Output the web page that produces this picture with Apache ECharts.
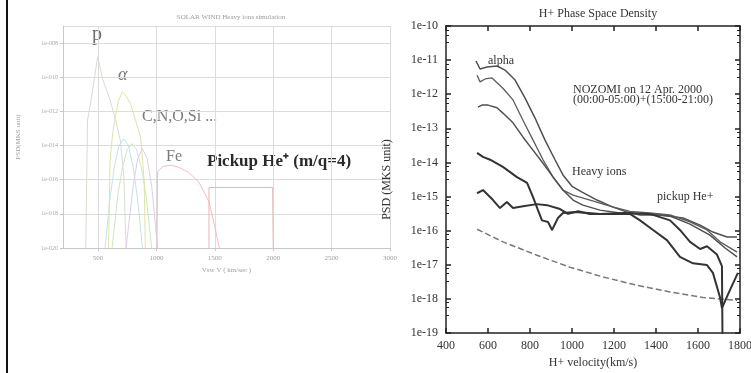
<!DOCTYPE html>
<html>
<head>
<meta charset="utf-8">
<script src="https://cdn.jsdelivr.net/npm/echarts@6/dist/echarts.min.js"></script>
<style>
html,body{margin:0;padding:0;background:#fff;}
#chart{width:751px;height:373px;}
</style>
</head>
<body>
<div id="chart"></div>
<script>
// ---- left panel: solar wind heavy ion simulation (v in km/s, PSD) ----
const simTicksX = [500, 1000, 1500, 2000, 2500, 3000];
const simP = [[395,1e-20],[410,3e-13],[445,7e-12],[471,1.1e-10],[497,1.6e-9],[541,7e-11],[602,5e-12],[646,4e-13],[690,2.2e-14],[720,2e-16],[740,1e-20]];
const simAlpha = [[590,1e-20],[602,1e-15],[625,5e-14],[646,4e-13],[675,4e-12],[707,1.4e-11],[740,8e-12],[777,3e-12],[821,3e-13],[865,3e-14],[895,1e-16],[905,1e-20]];
const simC = [[560,1e-20],[600,6e-18],[640,6e-16],[680,1e-14],[720,2.5e-14],[760,1e-14],[800,6e-16],[840,6e-18],[880,1e-20]];
const simO = [[620,1e-20],[670,1.3e-17],[710,5.6e-16],[750,5.8e-15],[790,1.3e-14],[830,5.8e-15],[870,5.6e-16],[910,1.3e-17],[960,1e-20]];
const simSi = [[740,1e-20],[800,4e-17],[840,1.8e-15],[880,6.3e-15],[920,1.8e-15],[960,4e-17],[1010,1e-20]];
const simFe = [[1005,1e-20],[1010,3e-16],[1060,6e-16],[1127,7e-16],[1200,5e-16],[1276,2.7e-16],[1364,7e-17],[1451,5e-18],[1504,1.3e-19],[1539,1e-20]];
const simPickup = [[1450,1e-20],[1450,3.5e-17],[1995,3.5e-17],[2000,1e-20]];

// ---- right panel: NOZOMI H+ phase space density ----
const psdAlpha = [[543,9.4e-12],[562,5.5e-12],[595,6.3e-12],[643,6.7e-12],[681,5.1e-12],[729,2.6e-12],[776,7.8e-13],[824,2.0e-13],[871,4.6e-14],[919,1.2e-14],[957,4.3e-15],[1000,2.0e-15],[1048,1.35e-15],[1119,7.9e-16],[1195,4.9e-16],[1262,3.5e-16],[1324,2.9e-16],[1419,2.9e-16],[1529,2.35e-16],[1610,1.45e-16],[1671,9.1e-17],[1738,6.5e-17],[1786,6.5e-17]];
const psdB = [[548,3.6e-12],[562,2.3e-12],[586,2.8e-12],[619,3.0e-12],[671,1.5e-12],[719,6.8e-13],[767,1.7e-13],[814,4.6e-14],[862,1.2e-14],[910,3.7e-15],[957,1.55e-15],[1005,1.1e-15],[1086,7.9e-16],[1181,5.2e-16],[1276,3.7e-16],[1371,3.3e-16],[1467,2.9e-16],[1562,1.8e-16],[1643,1.05e-16],[1705,4.7e-17],[1786,2.35e-17]];
const psdC = [[552,4.2e-13],[571,4.8e-13],[600,4.8e-13],[643,4.0e-13],[671,2.8e-13],[719,1.45e-13],[767,5.5e-14],[814,2.3e-14],[862,9.5e-15],[910,3.7e-15],[957,1.55e-15],[1005,7.9e-16],[1052,5.6e-16],[1133,4.0e-16],[1229,3.3e-16],[1348,3.1e-16],[1467,2.7e-16],[1562,1.55e-16],[1657,7.4e-17],[1729,3.1e-17],[1786,1.7e-17]];
const psdD = [[548,1.9e-14],[576,1.45e-14],[610,1.2e-14],[671,7.4e-15],[738,3.7e-15],[786,2.5e-15],[814,9.8e-16],[838,4.0e-16],[857,2.0e-16],[886,1.8e-16],[905,1.05e-16],[933,2.35e-16],[957,3.3e-16],[1014,3.5e-16],[1076,3.3e-16],[1133,3.1e-16],[1252,3.3e-16],[1371,3.1e-16],[1467,2.0e-16],[1514,1.05e-16],[1562,4.7e-17],[1610,2.9e-17],[1643,3.5e-17],[1690,2.0e-17],[1714,9.1e-18],[1719,1e-21]];
const psdE = [[548,1.25e-15],[576,1.55e-15],[624,7.9e-16],[657,4.6e-16],[690,6.9e-16],[719,4.6e-16],[767,5.2e-16],[833,6.0e-16],[881,5.6e-16],[943,4.3e-16],[981,3.1e-16],[1029,3.7e-16],[1086,3.1e-16],[1181,3.1e-16],[1276,3.1e-16],[1324,2.0e-16],[1386,1.05e-16],[1452,5.3e-17],[1514,1.7e-17],[1576,1.1e-17],[1643,9.8e-18],[1671,5.8e-18],[1705,1.1e-18],[1714,5.4e-19],[1752,1.8e-18],[1790,5.8e-18]];
const psdModel = [[548,1.1e-16],[671,4.7e-17],[833,1.9e-17],[990,8.5e-18],[1148,4.4e-18],[1310,2.5e-18],[1467,1.6e-18],[1624,1.1e-18],[1786,9.1e-19]];

const serif = 'Liberation Serif';
const chart = echarts.init(document.getElementById('chart'));

function simLine(data, color) {
  return {type:'line', xAxisIndex:0, yAxisIndex:0, data, symbol:'none', silent:true,
    lineStyle:{color, width:1}};
}
function psdLine(data, color, width, dashed) {
  return {type:'line', xAxisIndex:1, yAxisIndex:1, data, symbol:'none', silent:true,
    lineStyle:{color, width, type: dashed ? 'dashed' : 'solid'}};
}
const exp10 = v => Math.round(Math.log10(v));
const plain = v => String(v);
const dark = {color:'#222', width:1.5};

chart.setOption({
  animation:false,
  title:[
    {text:'SOLAR WIND Heavy ions simulation', left:226, top:9, textAlign:'center',
      textStyle:{fontSize:7, color:'#9a9a9a', fontWeight:'normal', fontFamily:serif}},
    {text:'H+ Phase Space Density', left:593, top:3, textAlign:'center',
      textStyle:{fontSize:12, color:'#333', fontWeight:'normal', fontFamily:serif}}
  ],
  grid:[
    {left:63, top:26, width:327, bottom:125, outerBoundsMode:'none'},
    {left:446, top:26, right:11, bottom:40, outerBoundsMode:'none'}
  ],
  xAxis:[
    {gridIndex:0, type:'value', min:200, max:3000,
      name:'Vsw V ( km/sec )', nameLocation:'middle', nameGap:19,
      nameTextStyle:{fontSize:7, color:'#a0a0a0', fontFamily:serif},
      axisLine:{onZero:false, lineStyle:{color:'#c8c8c8'}},
      axisTick:{customValues:simTicksX, length:3, lineStyle:{color:'#c8c8c8'}},
      axisLabel:{customValues:simTicksX, fontSize:7, color:'#a0a0a0', margin:7, fontFamily:serif, formatter:plain},
      splitLine:{show:true, lineStyle:{color:'#dcdcdc'}}},
    {gridIndex:1, type:'value', min:400, max:1800, interval:200,
      name:'H+ velocity(km/s)', nameLocation:'middle', nameGap:24,
      nameTextStyle:{fontSize:12, color:'#333', fontFamily:serif},
      axisLine:{onZero:false, lineStyle:dark},
      axisTick:{inside:true, length:5, lineStyle:dark},
      axisLabel:{fontSize:12, color:'#333', margin:7, fontFamily:serif, formatter:plain},
      splitLine:{show:false}},
    {gridIndex:1, type:'value', min:400, max:1800, interval:200, position:'top',
      axisLine:{onZero:false, lineStyle:dark},
      axisTick:{inside:true, length:5, lineStyle:dark},
      axisLabel:{show:false}, splitLine:{show:false}}
  ],
  yAxis:[
    {gridIndex:0, type:'log', logBase:10, min:1e-20, max:1e-7, interval:2,
      name:'PSD(MKS unit)', nameLocation:'middle', nameGap:41,
      nameTextStyle:{fontSize:7, color:'#a0a0a0', fontFamily:serif},
      axisLine:{show:true, lineStyle:{color:'#c8c8c8'}},
      axisTick:{show:true, length:3, lineStyle:{color:'#c8c8c8'}},
      axisLabel:{fontSize:6, color:'#a8a8a8', margin:5, fontFamily:serif, showMaxLabel:false,
        formatter:v => { const e = exp10(v); return e % 2 ? '' : '1e-' + String(-e).padStart(3,'0'); }},
      splitLine:{show:true, lineStyle:{color:'#dcdcdc'}}},
    {gridIndex:1, type:'log', logBase:10, min:1e-19, max:1e-10,
      name:'PSD (MKS unit)', nameLocation:'middle', nameGap:53,
      nameTextStyle:{fontSize:12, color:'#333', fontFamily:serif},
      axisLine:{show:true, lineStyle:dark},
      axisTick:{show:true, inside:true, length:5, lineStyle:dark},
      minorTick:{show:true, splitNumber:4, length:3, lineStyle:{color:'#222'}},
      axisLabel:{fontSize:12, color:'#333', margin:8, fontFamily:serif, formatter:v => '1e' + exp10(v)},
      splitLine:{show:false}},
    {gridIndex:1, type:'log', logBase:10, min:1e-19, max:1e-10, position:'right',
      axisLine:{show:true, lineStyle:dark},
      axisTick:{show:true, inside:true, length:5, lineStyle:dark},
      minorTick:{show:true, splitNumber:4, length:3, lineStyle:{color:'#222'}},
      axisLabel:{show:false}, splitLine:{show:false}}
  ],
  series:[
    simLine(simP, '#d6ddd0'),
    simLine(simC, '#c4e2e6'),
    simLine(simO, '#cde6c6'),
    simLine(simSi, '#d8d0ec'),
    simLine(simAlpha, '#dfe3a6'),
    simLine(simFe, '#f0bcc4'),
    simLine(simPickup, '#e6b6b6'),
    psdLine(psdModel, '#777', 1.5, true),
    psdLine(psdAlpha, '#505050', 1.5),
    psdLine(psdB, '#5c5c5c', 1.3),
    psdLine(psdC, '#505050', 1.5),
    psdLine(psdD, '#333', 2),
    psdLine(psdE, '#333', 2)
  ],
  graphic:[
    {type:'line', shape:{x1:7, y1:0, x2:7, y2:373}, style:{stroke:'#111', lineWidth:2}},
    {type:'text', x:92, y:35, style:{text:'p', font:'20px ' + serif, fill:'#6a6a6a', verticalAlign:'middle'}},
    {type:'text', x:118, y:75, style:{text:'α', font:'italic 18px ' + serif, fill:'#777', verticalAlign:'middle'}},
    {type:'text', x:142, y:117, style:{text:'C,N,O,Si ...', font:'16px ' + serif, fill:'#7a7a7a', verticalAlign:'middle'}},
    {type:'text', x:166, y:157, style:{text:'Fe', font:'16px ' + serif, fill:'#7a7a7a', verticalAlign:'middle'}},
    {type:'text', x:207, y:162, style:{text:'Pickup He⁺ (m/q=4)', font:'bold 17px ' + serif, fill:'#2a2a2a', verticalAlign:'middle'}},
    {type:'text', x:488, y:61, style:{text:'alpha', font:'12px ' + serif, fill:'#333', verticalAlign:'middle'}},
    {type:'text', x:573, y:95, style:{text:'NOZOMI on 12 Apr. 2000\n(00:00-05:00)+(15:00-21:00)', font:'12px ' + serif, lineHeight:10, fill:'#333', verticalAlign:'middle'}},
    {type:'text', x:572, y:172, style:{text:'Heavy ions', font:'12px ' + serif, fill:'#333', verticalAlign:'middle'}},
    {type:'text', x:657, y:197, style:{text:'pickup He+', font:'12px ' + serif, fill:'#333', verticalAlign:'middle'}}
  ]
});
</script>
</body>
</html>
